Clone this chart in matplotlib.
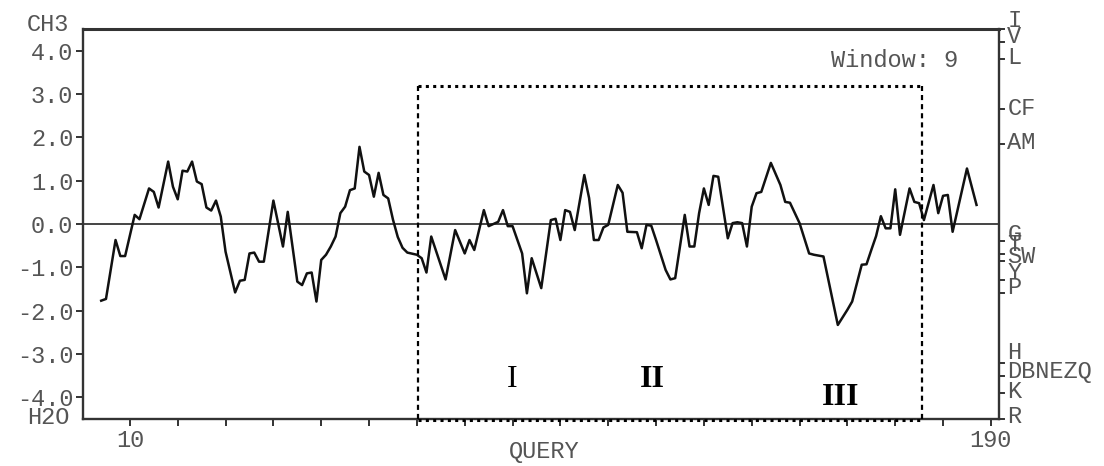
"""Hydropathy plot (Kyte-Doolittle, window 9) with the boxed region I-III."""
import matplotlib
matplotlib.use("Agg")
import matplotlib.pyplot as plt
from matplotlib import transforms

# residue position and windowed hydropathy score
residue = [4, 5, 7, 8, 9, 11, 12, 14, 15, 16, 18, 19, 20, 21, 22, 23, 24, 25, 26, 27,
           28, 29, 30, 32, 33, 34, 35, 36, 37, 38, 40, 42, 43, 45, 46, 47, 48, 49, 50, 51,
           52, 53, 54, 55, 56, 57, 58, 59, 60, 61, 62, 63, 64, 65, 66, 67, 68, 70, 71, 72,
           73, 76, 78, 80, 81, 82, 84, 85, 87, 88, 89, 90, 92, 93, 94, 96, 98, 99, 100, 101,
           102, 103, 105, 106, 107, 108, 109, 110, 112, 113, 114, 116, 117, 118, 119, 120, 122, 123, 124, 126,
           127, 128, 129, 130, 131, 132, 133, 135, 136, 137, 138, 139, 140, 141, 142, 144, 146, 147, 148, 150,
           152, 153, 154, 155, 158, 160, 161, 163, 164, 165, 166, 167, 168, 169, 170, 171, 173, 174, 175, 176,
           178, 179, 180, 181, 182, 185, 187]
score = [-1.77, -1.73, -0.37, -0.74, -0.74, 0.21, 0.11, 0.82, 0.74, 0.38, 1.44, 0.86, 0.57, 1.23, 1.21, 1.44, 0.98, 0.92, 0.38, 0.31,
         0.54, 0.17, -0.64, -1.58, -1.31, -1.29, -0.68, -0.66, -0.87, -0.87, 0.54, -0.52, 0.28, -1.33, -1.41, -1.14, -1.12, -1.79, -0.83, -0.71,
         -0.52, -0.29, 0.25, 0.40, 0.78, 0.82, 1.78, 1.21, 1.13, 0.63, 1.18, 0.67, 0.59, 0.10, -0.30, -0.55, -0.66, -0.71, -0.79, -1.12,
         -0.29, -1.28, -0.14, -0.68, -0.37, -0.60, 0.32, -0.05, 0.05, 0.32, -0.05, -0.05, -0.68, -1.60, -0.79, -1.48, 0.09, 0.12, -0.37, 0.32,
         0.28, -0.14, 1.13, 0.60, -0.37, -0.37, -0.08, -0.02, 0.90, 0.72, -0.18, -0.19, -0.56, -0.02, -0.04, -0.37, -1.06, -1.28, -1.25, 0.21,
         -0.52, -0.52, 0.25, 0.82, 0.44, 1.11, 1.09, -0.33, 0.02, 0.04, 0.02, -0.52, 0.40, 0.71, 0.74, 1.41, 0.90, 0.51, 0.49, 0.02,
         -0.68, -0.71, -0.73, -0.75, -2.33, -1.98, -1.79, -0.94, -0.93, -0.60, -0.28, 0.18, -0.10, -0.10, 0.80, -0.25, 0.82, 0.51, 0.48, 0.09,
         0.90, 0.25, 0.65, 0.67, -0.18, 1.28, 0.44]

# right-hand scale: residue letters at their Kyte-Doolittle values
scale_names = ["I", "V", "L", "CF", "AM", "G", "T", "SW", "Y", "P", "H", "DBNEZQ", "K", "R"]
scale_values = [4.5, 4.2, 3.8, 2.65, 1.85, -0.4, -0.7, -0.85, -1.3, -1.6, -3.2, -3.5, -3.9, -4.5]
label_nudge = [0.2, 0.13, 0.05, 0.02, 0.04, 0.15, 0.22, 0.11, 0.19, 0.13, 0.23, 0.09, 0.03, 0.05]

box_start, box_end, box_top = 70.3, 175.7, 3.18
regions = ["I", "II", "III"]
region_x = [89.9, 119.2, 158.5]
region_y = [-3.6, -3.6, -4.0]
region_weight = ["normal", "bold", "bold"]
window = 9

MONO = "Liberation Mono"
SERIF = "Liberation Serif"
GREY = "#555555"
AXC = "#333333"
FS = 17

fig = plt.figure(figsize=(11.04, 4.66), dpi=100)
ax = fig.add_axes([0.0752, 0.1009, 0.8297, 0.8369])
ax.set_xlim(0.2, 191.7)
ax.set_ylim(-4.5, 4.5)

ax.axhline(0, color="#444444", lw=1.4, zorder=2)
ax.plot(residue, score, color="#111111", lw=1.8, zorder=3)

# dashed box around the region of interest
dot = dict(color="black", lw=2.2, ls=(0, (1.0, 1.4)), clip_on=False, zorder=4)
dash = dict(color="black", lw=1.6, ls=(0, (2.3, 1.8)), clip_on=False, zorder=4)
ax.plot([box_start, box_end], [box_top, box_top], **dot)
ax.plot([box_start, box_end], [-4.52, -4.52], **dot)
ax.plot([box_start, box_start], [-4.5, box_top], **dash)
ax.plot([box_end, box_end], [-4.5, box_top], **dash)

for name, x, y, w in zip(regions, region_x, region_y, region_weight):
    ax.text(x, y, name, family=SERIF, fontsize=23, fontweight=w, ha="center", va="center")

for side, sp in ax.spines.items():
    sp.set_color(AXC)
    sp.set_linewidth(2.2 if side == "top" else 1.7)

ax.set_yticks(range(-4, 5))
ax.set_yticklabels([f"{v:.1f}" for v in range(-4, 5)])
xt = list(range(10, 191, 10))
ax.set_xticks(xt)
ax.set_xticklabels([str(v) if v in (10, 190) else "" for v in xt])
ax.tick_params(axis="both", direction="out", length=5, width=1.4, color=AXC,
               labelcolor=GREY, labelsize=FS, pad=2)
ax.tick_params(axis="x", pad=2)
for lab in ax.get_xticklabels() + ax.get_yticklabels():
    lab.set_family(MONO)

ax.set_xlabel("QUERY", family=MONO, fontsize=FS, color=GREY, va="center")
ax.xaxis.set_label_coords(0.504, -0.083)

# end labels of the left scale
ax.annotate("CH3", xy=(0, 1), xycoords="axes fraction", xytext=(-10, 3),
            textcoords="offset points", ha="right", va="center",
            family=MONO, fontsize=FS, color=GREY)
ax.annotate("H2O", xy=(0, 0), xycoords="axes fraction", xytext=(-10, 1),
            textcoords="offset points", ha="right", va="center",
            family=MONO, fontsize=FS, color=GREY)

ax.text(0.955, 0.92, f"Window: {window}", transform=ax.transAxes, ha="right",
        va="center", family=MONO, fontsize=FS, color=GREY)

# right scale ticks + letters
blend = transforms.blended_transform_factory(ax.transAxes, ax.transData)
for v in scale_values:
    ax.plot([1.0, 1.005], [v, v], transform=blend, color=AXC, lw=1.4, clip_on=False)
for name, v, dy in zip(scale_names, scale_values, label_nudge):
    ax.text(1.009, v + dy, name, transform=blend, ha="left", va="center",
            family=MONO, fontsize=FS, color=GREY, clip_on=False)

fig.savefig("out.png", dpi=100)
